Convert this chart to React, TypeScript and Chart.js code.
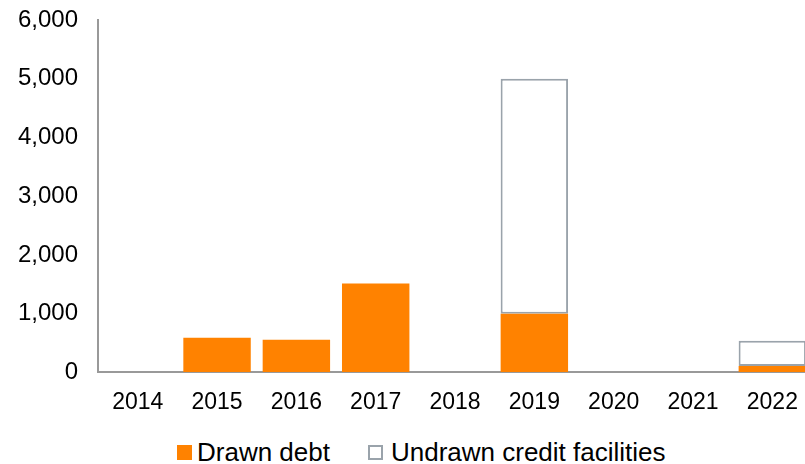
import React, { useEffect, useRef } from "react";
import { Chart, registerables } from "chart.js";

Chart.register(...registerables);

const years = ["2014", "2015", "2016", "2017", "2018", "2019", "2020", "2021", "2022"];
const drawnDebt = [null, 590, 555, 1515, null, 1000, null, null, 110];
const undrawnFacilities = [null, null, null, null, null, 4000, null, null, 430];
const yTicks = [0, 1000, 2000, 3000, 4000, 5000, 6000];

const ORANGE = "#FF8200";
const GREY = "#9AA3AB";
const FONT = "'Liberation Sans', Arial, sans-serif";

export default function App() {
  const ref = useRef<HTMLCanvasElement | null>(null);

  useEffect(() => {
    if (!ref.current) return;
    const chart = new Chart(ref.current, {
      type: "bar",
      data: {
        labels: years,
        datasets: [
          {
            label: "Drawn debt",
            data: drawnDebt,
            backgroundColor: ORANGE,
            borderWidth: 0,
            barPercentage: 0.85,
            categoryPercentage: 1,
            stack: "s",
          },
          {
            label: "Undrawn credit facilities",
            data: undrawnFacilities,
            backgroundColor: "#FFFFFF",
            borderColor: GREY,
            borderWidth: 2,
            borderSkipped: false,
            barPercentage: 0.85,
            categoryPercentage: 1,
            stack: "s",
          },
        ],
      },
      options: {
        responsive: false,
        animation: false,
        layout: { padding: { left: 18, top: 20, right: 18, bottom: 0 } },
        plugins: { legend: { display: false }, tooltip: { enabled: false } },
        scales: {
          x: {
            stacked: true,
            grid: {
              display: true,
              drawOnChartArea: false,
              drawTicks: true,
              tickLength: 16,
              color: "rgba(0,0,0,0)",
            },
            border: { display: true, color: "#999999", width: 2 },
            ticks: {
              color: "#000",
              font: { family: FONT, size: 23 },
              padding: 0,
              maxRotation: 0,
              autoSkip: false,
            },
          },
          y: {
            stacked: true,
            min: yTicks[0],
            max: yTicks[yTicks.length - 1],
            afterBuildTicks: (axis: any) => {
              axis.ticks = yTicks.map((v) => ({ value: v }));
            },
            grid: {
              display: true,
              drawOnChartArea: false,
              drawTicks: true,
              tickLength: 20,
              color: "rgba(0,0,0,0)",
            },
            border: { display: true, color: "#999999", width: 2 },
            ticks: {
              color: "#000",
              font: { family: FONT, size: 24 },
              padding: 0,
              callback: (v: any) => Number(v).toLocaleString("en-US"),
            },
          },
        },
      },
    });
    return () => chart.destroy();
  }, []);

  return (
    <div
      style={{
        position: "fixed",
        left: 0,
        top: 0,
        width: 805,
        height: 464,
        overflow: "hidden",
        background: "#fff",
        fontFamily: FONT,
      }}
    >
      <canvas ref={ref} width={830} height={416} style={{ display: "block" }} />
      <div
        style={{
          position: "absolute",
          left: 177,
          top: 437,
          display: "flex",
          alignItems: "center",
          fontSize: 26,
          lineHeight: "30px",
          color: "#000",
          whiteSpace: "nowrap",
        }}
      >
        <span style={{ display: "inline-block", width: 15, height: 15, background: ORANGE, marginRight: 5 }} />
        <span>Drawn debt</span>
        <span
          style={{
            display: "inline-block",
            width: 11,
            height: 11,
            border: `2px solid ${GREY}`,
            background: "#fff",
            marginLeft: 38,
            marginRight: 8,
          }}
        />
        <span>Undrawn credit facilities</span>
      </div>
    </div>
  );
}
